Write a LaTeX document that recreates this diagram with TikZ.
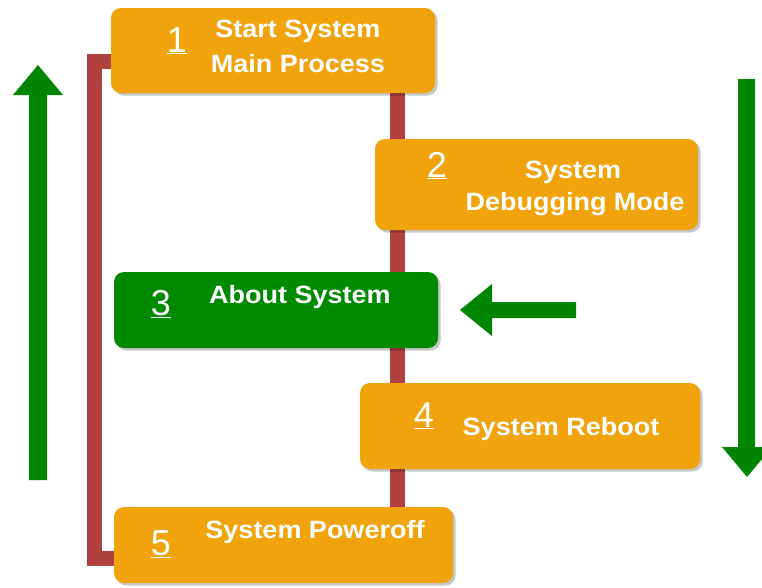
\documentclass[tikz,border=0pt]{standalone}
\usepackage{fontspec}
\usetikzlibrary{shadows,backgrounds}
\newfontfamily\lblfont{Liberation Sans}[FakeStretch=1.08]
\newfontfamily\numfont{Liberation Sans}
\definecolor{boxorange}{HTML}{F0A30A}
\definecolor{boxgreen}{HTML}{008A00}
\definecolor{linkred}{HTML}{B0413E}
\definecolor{arrowgreen}{HTML}{008500}
\tikzset{
  stepbox/.style={rectangle, rounded corners=10pt, inner sep=0pt, fill=boxorange,
    drop shadow={shadow xshift=2.5pt, shadow yshift=-2.5pt, fill=black, opacity=0.22}},
  activebox/.style={stepbox, fill=boxgreen},
  lbl/.style={anchor=base, text=white, inner sep=0pt,
    font=\lblfont\bfseries\fontsize{25}{30}\selectfont},
  num/.style={anchor=base, text=white, inner sep=0pt,
    font=\numfont\fontsize{36}{40}\selectfont},
  link/.style={draw=linkred, line width=15pt},
  flowarrow/.style={fill=arrowgreen, draw=none}
}
\begin{document}
\begin{tikzpicture}[x=1pt, y=-1pt]
\useasboundingbox (0,0) rectangle (762,587);

% flow direction arrows
\fill[flowarrow] (29,480) -- (29,95) -- (13,95) -- (38,65) -- (63,95) -- (47,95) -- (47,480) -- cycle;
\fill[flowarrow] (738,79) -- (738,447) -- (722,447) -- (747,477) -- (772,447) -- (755,447) -- (755,79) -- cycle;
\fill[flowarrow] (576,302) -- (492,302) -- (492,284) -- (460,310) -- (492,336) -- (492,318) -- (576,318) -- cycle;

% step boxes
\path
  (273,50.5)    node[stepbox, minimum width=324pt, minimum height=85pt] (b1) {}
  (536.5,184.5) node[stepbox, minimum width=323pt, minimum height=91pt] (b2) {}
  (276,310)     node[activebox, minimum width=324pt, minimum height=76pt] (b3) {}
  (530,426)     node[stepbox, minimum width=340pt, minimum height=86pt] (b4) {}
  (283.5,545)   node[stepbox, minimum width=339pt, minimum height=76pt] (b5) {};

% links run behind the boxes
\coordinate (mx) at (397.5,0);
\coordinate (lx) at (94.5,0);
\begin{scope}[on background layer]
  \draw[link] (b1.south -| mx) -- (b5.north -| mx);
  \draw[link] ([xshift=12pt]b1.west |- 0,61) -| (lx |- 0,558) -- ([xshift=12pt]b5.west |- 0,558);
\end{scope}

% box texts
\node[num] (n1) at (177,52)  {\underline{1}};
\node[lbl] (t1a) at (298,37)  {Start System};
\node[lbl] (t1b) at (298,72)  {Main Process};
\node[num] (n2) at (437,177) {\underline{2}};
\node[lbl] (t2a) at (573,178) {System};
\node[lbl] (t2b) at (575,210) {Debugging Mode};
\node[num] (n3) at (161,315) {\underline{3}};
\node[lbl] (t3) at (300,303)  {About System};
\node[num] (n4) at (424,427) {\underline{4}};
\node[lbl] (t4) at (561,435)  {System Reboot};
\node[num] (n5) at (161,555) {\underline{5}};
\node[lbl] (t5) at (315,538)  {System Poweroff};
\end{tikzpicture}
\end{document}
